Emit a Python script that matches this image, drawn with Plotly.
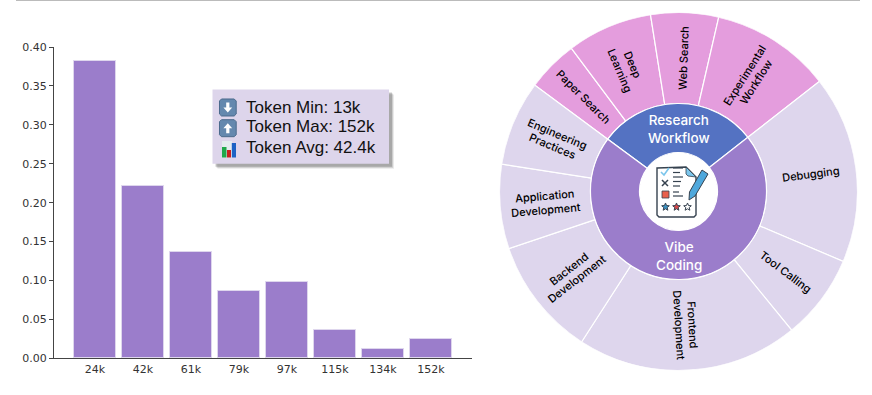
import math
import plotly.graph_objects as go

W, H = 872, 395

# ---- bar chart data ----
bins = ["24k", "42k", "61k", "79k", "97k", "115k", "134k", "152k"]
shares = [0.382, 0.222, 0.136, 0.0866, 0.098, 0.0364, 0.012, 0.0244]
y_ticks = [0, 0.05, 0.10, 0.15, 0.20, 0.25, 0.30, 0.35, 0.40]
stats = ["Token Min: 13k", "Token Max: 152k", "Token Avg: 42.4k"]

# ---- ring data (sizes in degrees, clockwise, starting from the Research group's left edge) ----
research_labels = [["Paper Search"], ["Deep", "Learning"], ["Web Search"], ["Experimental", "Workflow"]]
research_sizes = [16.7, 27.8, 22.0, 39.0]
vibe_labels = [["Debugging"], ["Tool Calling"], ["Frontend", "Development"], ["Backend", "Development"],
               ["Application", "Development"], ["Engineering", "Practices"]]
vibe_sizes = [61.0, 27.8, 72.0, 38.6, 27.4, 27.7]
start_angle = -53.5

PURPLE = "#9B7DCB"
LIGHT = "#DED6ED"
PINK = "#E49DDD"
BLUE = "#5472C2"
DARK = "#36424F"


def X(p):
    return p / W


def Y(p):
    return 1 - p / H


def rect(x0, y0, x1, y1, fill, opacity=1.0, line=None, lw=0):
    return dict(type="rect", xref="paper", yref="paper", x0=X(x0), x1=X(x1), y0=Y(y0), y1=Y(y1),
                fillcolor=fill, opacity=opacity, line=dict(color=line or fill, width=lw), layer="above")


def path(points, fill=None, line=None, lw=0, close=True):
    d = "M " + " L ".join(f"{X(a):.5f},{Y(b):.5f}" for a, b in points) + (" Z" if close else "")
    return dict(type="path", xref="paper", yref="paper", path=d, fillcolor=fill or "rgba(0,0,0,0)",
                line=dict(color=line or "rgba(0,0,0,0)", width=lw), layer="above")


def star(cx, cy, r, fill, line):
    pts = []
    for i in range(10):
        rr = r if i % 2 == 0 else r * 0.45
        a = math.radians(-90 + 36 * i)
        pts.append((cx + rr * math.cos(a), cy + rr * math.sin(a)))
    return path(pts, fill, line, 1)


fig = go.Figure()

fig.add_trace(go.Bar(x=list(range(len(bins))), y=shares, width=0.87,
                     marker=dict(color=PURPLE, line=dict(color=LIGHT, width=1)), showlegend=False,
                     hoverinfo="skip"))

# ---- rings ----
thetas, widths, colors, bases, rs = [], [], [], [], []
cursor = start_angle
group_span = {}
for group, sizes, col in (("Research", research_sizes, PINK), ("Vibe", vibe_sizes, LIGHT)):
    g0 = cursor
    for s in sizes:
        thetas.append(cursor + s / 2)
        widths.append(s)
        colors.append(col)
        bases.append(88)
        rs.append(91)
        cursor += s
    group_span[group] = (g0, cursor)

for group, col in (("Research", BLUE), ("Vibe", PURPLE)):
    a, b = group_span[group]
    thetas.append((a + b) / 2)
    widths.append(b - a)
    colors.append(col)
    bases.append(39)
    rs.append(49)

fig.add_trace(go.Barpolar(theta=thetas, width=widths, r=rs, base=bases,
                          marker=dict(color=colors, line=dict(color="white", width=1.2)),
                          showlegend=False, hoverinfo="skip"))

CX, CY, R = 678.5, 191.5, 179
annotations = []


def label(lines, a, r=134, size=11, gap=13.2, color="#000", rotate=True, weight=500):
    a_n = a % 360
    ang = 0
    if rotate:
        ang = a_n - 90 if a_n < 180 else a_n - 270
    cx = CX + r * math.sin(math.radians(a))
    cy = CY - r * math.cos(math.radians(a))
    n = len(lines)
    for i, t in enumerate(lines):
        off = (i - (n - 1) / 2) * gap
        rad = math.radians(ang)
        px = cx - off * math.sin(rad)
        py = cy + off * math.cos(rad)
        annotations.append(dict(text=t, x=X(px), y=Y(py), xref="paper", yref="paper", showarrow=False,
                                xanchor="center", yanchor="middle", textangle=ang,
                                font=dict(family="Inter", size=size, color=color, weight=weight)))


cursor = start_angle
for lines, s in zip(research_labels + vibe_labels, research_sizes + vibe_sizes):
    label(lines, cursor + s / 2)
    cursor += s
label(["Research<br>Workflow"], 0, r=62.5, size=13.5, color="white", rotate=False)
label(["Vibe<br>Coding"], 180, r=64, size=13.5, color="white", rotate=False)

# ---- stats box ----
shapes = [dict(type="line", xref="paper", yref="paper", x0=X(16), x1=X(860), y0=Y(0.5), y1=Y(0.5),
               line=dict(color="#BBBBBB", width=1), layer="above")]
for off, op in ((5, 0.12), (4, 0.2), (3, 0.3)):
    shapes.append(rect(212.5 + off, 89.5 + off, 389 + off, 163.7 + off, "#555555", op))
shapes.append(rect(212.5, 89.5, 389, 163.7, "#DDD5EB"))
for i, t in enumerate(stats):
    annotations.append(dict(text=t, x=X(244), y=Y(107 + i * 20), xref="paper", yref="paper", showarrow=False,
                            xanchor="left", yanchor="middle",
                            font=dict(family="Liberation Sans", size=17, color="#111")))
# arrow icons
for top, down in ((99, True), (119.7, False)):
    x0, x1, y0, y1 = 219.5, 236.2, top, top + 17
    shapes.append(path([(x0 + 2, y0), (x1 - 2, y0), (x1, y0 + 2), (x1, y1 - 2), (x1 - 2, y1), (x0 + 2, y1),
                        (x0, y1 - 2), (x0, y0 + 2)], "#6488AE", "#4A6A8C", 1))
    cx = 227.8
    m = top + 8.5
    if down:
        pts = [(cx - 1.6, m - 5), (cx + 1.6, m - 5), (cx + 1.6, m), (cx + 4.4, m), (cx, m + 5), (cx - 4.4, m),
               (cx - 1.6, m)]
    else:
        pts = [(cx - 1.6, m + 5), (cx + 1.6, m + 5), (cx + 1.6, m), (cx + 4.4, m), (cx, m - 5), (cx - 4.4, m),
               (cx - 1.6, m)]
    shapes.append(path(pts, "white"))
# chart icon
shapes.append(rect(222, 141, 232, 157.5, "#E4ECEF"))
shapes.append(rect(222, 147, 226.5, 157.5, "#1FA84A"))
shapes.append(rect(227, 150, 231, 157.5, "#C8201F"))
shapes.append(rect(231.8, 143, 236, 157.5, "#1C62C4"))

# ---- centre clipboard icon ----
shapes.append(path([(657, 168), (686, 167), (696, 177), (696, 215), (694, 217), (659, 217), (657, 215)],
                   "white", DARK, 1.4))
shapes.append(path([(686, 167), (696, 177), (688, 176), (686, 174)], "#7CC6EC", DARK, 0.8))
shapes.append(path([(661, 172), (664, 175), (669, 168)], None, "#7CC6EC", 1.6, close=False))
for y, x1 in ((168, 683), (172.5, 680), (177, 683), (181.5, 681), (186, 680), (192, 679), (196, 683)):
    shapes.append(dict(type="line", xref="paper", yref="paper", x0=X(673), x1=X(x1), y0=Y(y), y1=Y(y),
                       line=dict(color=DARK, width=1.2), layer="above"))
shapes.append(path([(662, 180), (668, 186)], None, DARK, 1.5, close=False))
shapes.append(path([(668, 180), (662, 186)], None, DARK, 1.5, close=False))
shapes.append(rect(662, 191, 669, 198, "#E8604C", line=DARK, lw=0.8))
shapes.append(star(665.5, 207, 4, "#3D93C4", DARK))
shapes.append(star(676.5, 207, 4, "#D9484A", DARK))
shapes.append(star(687.5, 207, 4, "white", DARK))
shapes.append(path([(702, 170), (708, 174), (695, 196), (689, 200), (689.5, 192)], "#4FA8DC", DARK, 1))

fig.update_layout(
    width=W, height=H, autosize=False, margin=dict(l=0, r=0, t=0, b=0),
    paper_bgcolor="white", plot_bgcolor="white", showlegend=False,
    bargap=0,
    xaxis=dict(domain=[54 / W, 472 / W], range=[-0.854, 7.854], tickmode="array", automargin=False,
               tickvals=list(range(len(bins))), ticktext=bins, ticks="", showgrid=False, zeroline=False,
               showline=True, linecolor="#444", linewidth=1,
               tickfont=dict(family="DejaVu Sans", size=11, color="#333")),
    yaxis=dict(domain=[1 - 358.3 / H, 1 - 47 / H], range=[0, 0.40], tickmode="array", tickvals=y_ticks,
               automargin=False,
               ticktext=[f"{v:.2f}" for v in y_ticks], ticks="outside", ticklen=4, tickcolor="#444",
               showgrid=False, zeroline=False, showline=True, linecolor="#444", linewidth=1,
               tickfont=dict(family="DejaVu Sans", size=11, color="#333")),
    polar=dict(domain=dict(x=[(CX - R) / W, (CX + R) / W], y=[1 - (CY + R) / H, 1 - (CY - R) / H]),
               bgcolor="white", hole=0, barmode="overlay",
               radialaxis=dict(visible=False, range=[0, R]),
               angularaxis=dict(visible=False, direction="clockwise", rotation=90)),
    shapes=shapes, annotations=annotations,
)

fig.write_html("out.html", config=dict(displayModeBar=False),
               post_script="document.body.style.margin='0';")
